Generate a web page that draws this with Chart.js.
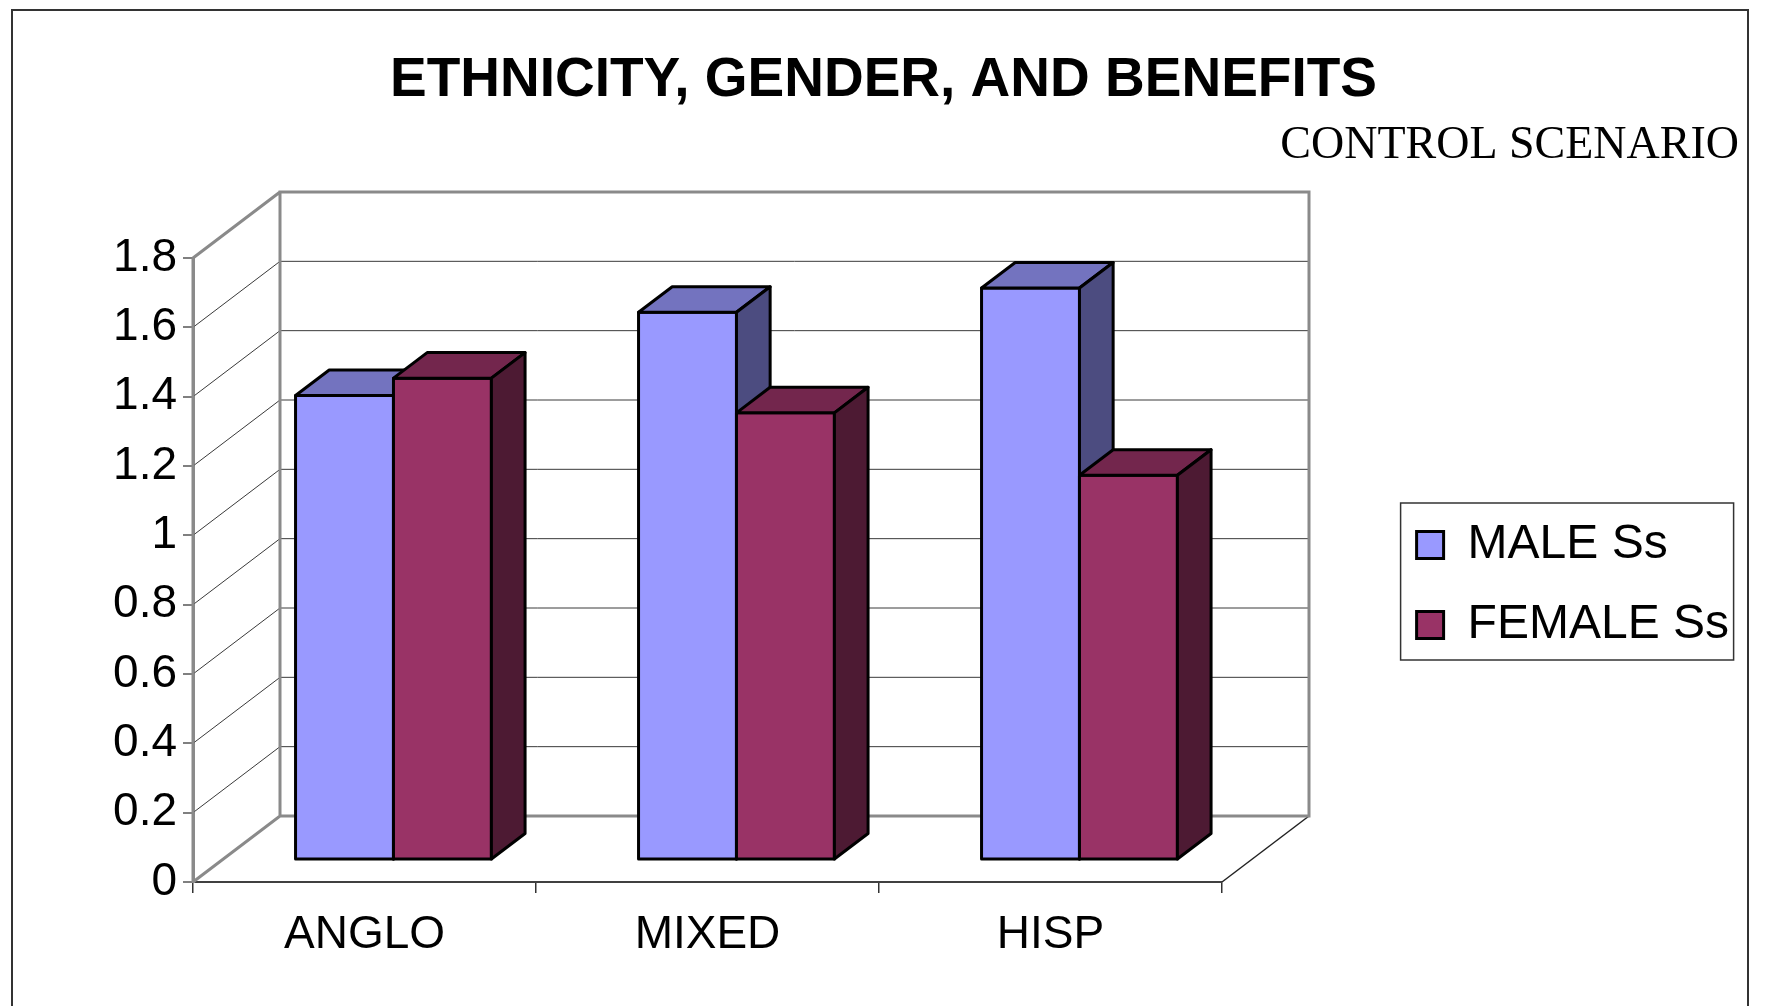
<!DOCTYPE html>
<html><head><meta charset="utf-8">
<script src="https://cdn.jsdelivr.net/npm/chart.js@4.4.1/dist/chart.umd.min.js"></script>
<style>html,body{margin:0;padding:0;background:#fff}#wrap{width:1767px;height:1006px;position:relative}</style>
</head><body><div id="wrap"><canvas id="c"></canvas></div>
<script>
// ---- data ----
const CATEGORIES = ['ANGLO', 'MIXED', 'HISP'];
const MALE = [1.34, 1.58, 1.65];
const FEMALE = [1.39, 1.29, 1.11];
const SERIES_NAMES = ['MALE Ss', 'FEMALE Ss'];
const Y_TICKS = ['0', '0.2', '0.4', '0.6', '0.8', '1', '1.2', '1.4', '1.6', '1.8'];
const TITLE = 'ETHNICITY, GENDER, AND BENEFITS';
const SUBTITLE = 'CONTROL SCENARIO';

// ---- layout / style constants ----
const SANS = "'Liberation Sans', Arial, sans-serif";
const SERIF = "'Liberation Serif', 'Times New Roman', serif";
const PLOT_LEFT = 193, PLOT_RIGHT = 1222, PLOT_BOTTOM = 882;
const DEPTH_X = 87, DEPTH_Y = -66;
const BAR_F0 = 0.333, BAR_F1 = 0.72;
const PAD_L = 28, PAD_R = 28;
const LEG_FONT = 48, LEG_BOX = 27, LEG_PAD = 32;
const FACE = {
  male: ['#9999FF', '#7373BF', '#4C4C80'],
  female: ['#993366', '#73264D', '#4D1A33']
};

Chart.defaults.font.family = SANS;
Chart.defaults.color = '#000';

const box3d = {
  id: 'box3d',
  beforeDraw(chart) {
    const ctx = chart.ctx;
    ctx.save();
    ctx.fillStyle = '#fff';
    ctx.fillRect(0, 0, chart.width, chart.height);
    ctx.strokeStyle = '#333';
    ctx.lineWidth = 2;
    ctx.strokeRect(12, 10, 1736, 1040);
    ctx.restore();
  },
  beforeDatasetDraw() { return false; },
  beforeDatasetsDraw(chart) {
    const { ctx, chartArea: a, scales: { y } } = chart;
    const L = a.left, R = a.right, B = a.bottom, T = a.top;
    ctx.save();
    ctx.lineCap = 'butt';
    ctx.lineWidth = 1;
    ctx.strokeStyle = '#3a3a3a';
    y.ticks.forEach(t => {
      if (t.value <= 0 || t.value >= y.max - 1e-9) return;
      const py = y.getPixelForValue(t.value);
      ctx.beginPath();
      ctx.moveTo(L + DEPTH_X, py + DEPTH_Y);
      ctx.lineTo(R + DEPTH_X, py + DEPTH_Y);
      ctx.moveTo(L, py);
      ctx.lineTo(L + DEPTH_X, py + DEPTH_Y);
      ctx.stroke();
    });
    ctx.lineWidth = 1.5;
    ctx.strokeStyle = '#222';
    ctx.beginPath();
    ctx.moveTo(R, B);
    ctx.lineTo(R + DEPTH_X, B + DEPTH_Y);
    ctx.stroke();
    ctx.lineWidth = 3;
    ctx.strokeStyle = '#8a8a8a';
    ctx.lineJoin = 'miter';
    ctx.beginPath();
    ctx.moveTo(L, B);
    ctx.lineTo(L + DEPTH_X, B + DEPTH_Y);
    ctx.lineTo(R + DEPTH_X, B + DEPTH_Y);
    ctx.lineTo(R + DEPTH_X, T + DEPTH_Y);
    ctx.lineTo(L + DEPTH_X, T + DEPTH_Y);
    ctx.lineTo(L + DEPTH_X, B + DEPTH_Y);
    ctx.moveTo(L, T);
    ctx.lineTo(L + DEPTH_X, T + DEPTH_Y);
    ctx.moveTo(L, T);
    ctx.lineTo(L, B);
    ctx.stroke();
    ctx.restore();
  },
  afterDatasetsDraw(chart) {
    const ctx = chart.ctx;
    const ox = BAR_F0 * DEPTH_X, oy = BAR_F0 * DEPTH_Y;
    const bx = (BAR_F1 - BAR_F0) * DEPTH_X, by = (BAR_F1 - BAR_F0) * DEPTH_Y;
    const faces = [FACE.male, FACE.female];
    ctx.save();
    ctx.lineWidth = 3;
    ctx.strokeStyle = '#000';
    ctx.lineJoin = 'round';
    for (let i = 0; i < CATEGORIES.length; i++) {
      for (let d = 0; d < chart.data.datasets.length; d++) {
        const el = chart.getDatasetMeta(d).data[i];
        const p = el.getProps(['x', 'y', 'base', 'width'], true);
        const l = p.x - p.width / 2 + ox, r = p.x + p.width / 2 + ox;
        const t = p.y + oy, b = p.base + oy;
        const c = faces[d];
        ctx.beginPath();
        ctx.rect(l, t, r - l, b - t);
        ctx.fillStyle = c[0]; ctx.fill(); ctx.stroke();
        ctx.beginPath();
        ctx.moveTo(l, t); ctx.lineTo(l + bx, t + by); ctx.lineTo(r + bx, t + by); ctx.lineTo(r, t); ctx.closePath();
        ctx.fillStyle = c[1]; ctx.fill(); ctx.stroke();
        ctx.beginPath();
        ctx.moveTo(r, t); ctx.lineTo(r + bx, t + by); ctx.lineTo(r + bx, b + by); ctx.lineTo(r, b); ctx.closePath();
        ctx.fillStyle = c[2]; ctx.fill(); ctx.stroke();
      }
    }
    ctx.restore();
  },
  afterDraw(chart) {
    const lg = chart.legend;
    if (!lg || !lg.legendHitBoxes || !lg.legendHitBoxes.length) return;
    const hb = lg.legendHitBoxes;
    const last = hb[hb.length - 1];
    const ctx = chart.ctx;
    ctx.save();
    ctx.strokeStyle = '#333';
    ctx.lineWidth = 1.5;
    const x0 = hb[0].left - 16, y0 = hb[0].top - 18;
    const x1 = hb[0].left + 317, y1 = last.top + last.height + 11;
    ctx.strokeRect(x0, y0, x1 - x0, y1 - y0);
    ctx.restore();
  }
};

new Chart(document.getElementById('c'), {
  type: 'bar',
  data: {
    labels: CATEGORIES,
    datasets: [
      { label: SERIES_NAMES[0], data: MALE, backgroundColor: FACE.male[0], borderColor: '#000', borderWidth: 3 },
      { label: SERIES_NAMES[1], data: FEMALE, backgroundColor: FACE.female[0], borderColor: '#000', borderWidth: 3 }
    ]
  },
  options: {
    responsive: true,
    maintainAspectRatio: false,
    animation: false,
    devicePixelRatio: 1,
    categoryPercentage: 0.571,
    barPercentage: 1,
    layout: { padding: { top: 0, left: PAD_L, right: PAD_R, bottom: 0 } },
    plugins: {
      tooltip: { enabled: false },
      title: {
        display: true, text: TITLE, color: '#000',
        font: { family: SANS, size: 55, weight: 'bold', lineHeight: 1.2 },
        padding: { top: 48, bottom: 0 }
      },
      subtitle: {
        display: true, text: SUBTITLE, color: '#000', align: 'end',
        font: { family: SERIF, size: 46, weight: 'normal', lineHeight: 1.2 },
        padding: { top: 4, bottom: 84.8 }
      },
      legend: {
        position: 'right', fullSize: false, align: 'center', maxWidth: 600,
        title: { display: true, text: '', font: { size: 10, lineHeight: 1 }, padding: { top: 20, bottom: 0 } },
        labels: {
          font: { family: SANS, size: LEG_FONT, lineHeight: 1.2 }, color: '#000',
          boxWidth: LEG_BOX, boxHeight: LEG_BOX, padding: LEG_PAD
        }
      }
    },
    scales: {
      x: {
        offset: true,
        grid: { display: true, drawOnChartArea: false, drawTicks: true, tickLength: 11, color: '#333', lineWidth: 1.5, offset: true },
        border: { display: true, color: '#404040', width: 2 },
        ticks: { font: { family: SANS, size: 46, lineHeight: 1.2 }, color: '#000', padding: 15, maxRotation: 0, autoSkip: false },
        afterFit: s => { s.height = s.chart.height - PLOT_BOTTOM; }
      },
      y: {
        min: 0, max: 1.8,
        grid: { display: true, drawOnChartArea: false, tickLength: 10, color: '#808080', lineWidth: 2 },
        border: { display: true, color: '#8a8a8a', width: 3 },
        ticks: {
          stepSize: 0.2, color: '#000', padding: 6,
          font: { family: SANS, size: 46, lineHeight: 1.2 },
          callback: v => Y_TICKS[Math.round(v / 0.2)]
        },
        afterFit: s => { s.width = PLOT_LEFT - PAD_L; }
      },
      spacer: {
        type: 'linear', position: 'right', display: true,
        grid: { display: false }, border: { display: false }, ticks: { display: false },
        afterFit: s => {
          const ctx = s.ctx;
          ctx.save();
          ctx.font = LEG_FONT + 'px ' + SANS;
          const tw = Math.max(...SERIES_NAMES.map(t => ctx.measureText(t).width));
          ctx.restore();
          const legW = LEG_PAD + LEG_BOX + LEG_FONT / 2 + tw + 10;
          s.width = Math.max(0, s.chart.width - PAD_R - legW - PLOT_RIGHT);
        }
      }
    }
  },
  plugins: [box3d]
});
</script>
</body></html>
